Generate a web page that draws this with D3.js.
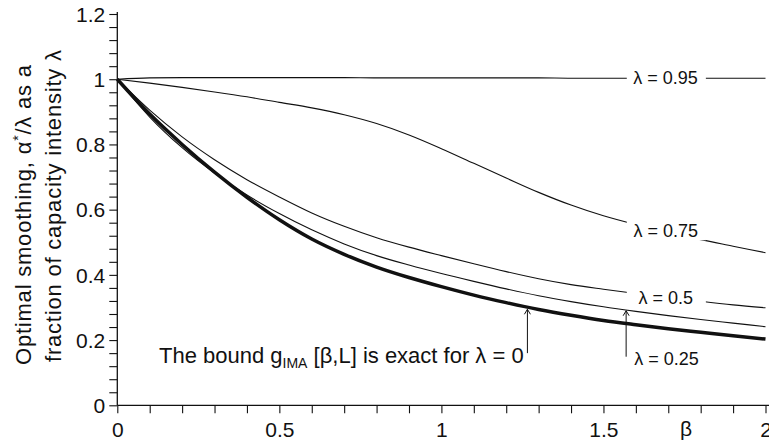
<!DOCTYPE html>
<html><head><meta charset="utf-8">
<script src="https://cdn.jsdelivr.net/npm/d3@7/dist/d3.min.js"></script>
<style>
body{margin:0;background:#fff}
svg{display:block}
text{font-family:"Liberation Sans",Arial,Helvetica,sans-serif;fill:#111}
</style>
</head><body>
<svg id="chart" width="769" height="442"></svg>
<script>
// ---- data ----
const beta = [0,0.1,0.2,0.3,0.4,0.5,0.6,0.7,0.8,0.9,1.0,1.1,1.2,1.3,1.4,1.5,1.6,1.7,1.8,1.9,2.0];
const lambda095 = [1.000,1.004,1.005,1.005,1.005,1.005,1.005,1.005,1.004,1.004,1.004,1.004,1.004,1.004,1.003,1.003,1.003,1.003,1.003,1.003,1.003];
const lambda075 = [1.000,0.988,0.975,0.961,0.946,0.929,0.912,0.891,0.864,0.829,0.787,0.742,0.697,0.653,0.614,0.581,0.554,0.530,0.508,0.488,0.468];
const lambda050 = [1.000,0.905,0.823,0.753,0.692,0.639,0.590,0.549,0.514,0.485,0.459,0.434,0.410,0.388,0.370,0.356,0.343,0.331,0.319,0.308,0.299];
const lambda025 = [1.000,0.884,0.790,0.712,0.645,0.588,0.538,0.495,0.459,0.430,0.404,0.380,0.357,0.336,0.318,0.302,0.288,0.275,0.263,0.252,0.241];
const lambda000 = [1.000,0.893,0.800,0.715,0.638,0.569,0.510,0.463,0.424,0.392,0.364,0.338,0.315,0.294,0.276,0.260,0.247,0.235,0.224,0.213,0.203];

const seriesLabels = ["λ = 0.95","λ = 0.75","λ = 0.5","λ = 0.25","λ = 0"];
const xMajorTicks = [0,0.5,1,1.5,2];
const xTickLabels = ["0","0.5","1","1.5","2"];
const yMajorTicks = [0,0.2,0.4,0.6,0.8,1,1.2];
const yTickLabels = ["0","0.2","0.4","0.6","0.8","1","1.2"];
const xTitle = "β";
const yTitle1 = ["Optimal smoothing, α", "*", "/λ as a"];
const yTitle2 = "fraction of capacity intensity λ";
const boundText = ["The bound g", "IMA", " [β,L] is exact for λ = 0"];

// ---- layout ----
const svg = d3.select("#chart");
const x = d3.scaleLinear().domain([0,2]).range([117.3,765.5]);
const y = d3.scaleLinear().domain([0,1.2]).range([405.3,14]);
const ink = "#111";

// series
const series = [
  {vals: lambda095, w: 1.1},
  {vals: lambda075, w: 1.1},
  {vals: lambda050, w: 1.1},
  {vals: lambda025, w: 1.1},
  {vals: lambda000, w: 3.5}
];
const line = d3.line().x(d=>x(d[0])).y(d=>y(d[1])).curve(d3.curveMonotoneX);
svg.append("g").selectAll("path").data(series).join("path")
  .attr("d", s => line(beta.map((b,i)=>[b, s.vals[i]])))
  .attr("fill","none").attr("stroke",ink).attr("stroke-width",s=>s.w)
  .attr("stroke-linejoin","round");

// axes
const xMinor = d3.range(0, 2.0001, 0.1).map(v=>+v.toFixed(2));
const yMinor = d3.range(0, 1.2001, 0.04).map(v=>+v.toFixed(2));
const xAxis = d3.axisBottom(x).tickValues(xMinor).tickSize(8).tickPadding(8.5)
  .tickFormat(v => { const k = xMajorTicks.findIndex(t=>Math.abs(t-v)<1e-6); return k>=0 ? xTickLabels[k] : ""; })
  .tickSizeOuter(0);
const yAxis = d3.axisLeft(y).tickValues(yMinor).tickSize(8).tickPadding(4)
  .tickFormat(v => { const k = yMajorTicks.findIndex(t=>Math.abs(t-v)<1e-6); return k>=0 ? yTickLabels[k] : ""; })
  .tickSizeOuter(0);

const gx = svg.append("g").attr("transform",`translate(0,${y(0)})`).call(xAxis);
const gy = svg.append("g").attr("transform",`translate(${x(0)},0)`).call(yAxis);
[gx,gy].forEach(g=>{
  g.selectAll("line").attr("stroke",ink).attr("stroke-width",1.1);
  g.select(".domain").remove();
  g.selectAll("text").style("font-family",'"Liberation Sans",Arial,sans-serif').style("font-size","21px").attr("fill",ink);
});
gy.selectAll("text").attr("dy","0.34em");
// axis lines
svg.append("line").attr("x1",x(0)).attr("x2",769).attr("y1",y(0)).attr("y2",y(0)).attr("stroke",ink).attr("stroke-width",1.3);
svg.append("line").attr("x1",x(0)).attr("x2",x(0)).attr("y1",y(1.2)-2).attr("y2",y(0)).attr("stroke",ink).attr("stroke-width",1.3);

// x title
svg.append("text").attr("x",686).attr("y",436).attr("text-anchor","middle").style("font-size","21px").text(xTitle);

// y title
const yt1 = svg.append("text").attr("transform","translate(31,365) rotate(-90)")
  .style("font-size","22px").attr("textLength",300).attr("lengthAdjust","spacing");
yt1.append("tspan").text(yTitle1[0]);
yt1.append("tspan").attr("dy",-8).style("font-size","14px").text(yTitle1[1]);
yt1.append("tspan").attr("dy",8).text(yTitle1[2]);
svg.append("text").attr("transform","translate(61,362) rotate(-90)").style("font-size","22px")
  .attr("textLength",312).attr("lengthAdjust","spacing").text(yTitle2);

// curve labels with white gaps
const gapStart = 1.572, gapEnd = 1.816;
const curveLabels = [
  {t: seriesLabels[0], b: 1.592, v: 0.9856},
  {t: seriesLabels[1], b: 1.593, v: 0.5153},
  {t: seriesLabels[2], b: 1.608, v: 0.3107}
];
curveLabels.forEach(l=>{
  svg.append("rect").attr("x",x(gapStart)).attr("width",x(gapEnd)-x(gapStart))
    .attr("y",y(l.v)-19).attr("height",22).attr("fill","#fff");
  svg.append("text").attr("x",x(l.b)).attr("y",y(l.v)).style("font-size","18px").text(l.t);
});
svg.append("text").attr("x",x(1.595)).attr("y",y(0.1236)).style("font-size","18px").text(seriesLabels[3]);

// bound annotation
const bt = svg.append("text").attr("x",x(0.1287)).attr("y",y(0.1288)).style("font-size","22px");
bt.append("tspan").text(boundText[0]);
bt.append("tspan").attr("dy",5).style("font-size","14px").text(boundText[1]);
bt.append("tspan").attr("dy",-5).text(boundText[2]);

// arrows
const arrows = [
  {b: 1.2654, from: 0.160, to: 0.2945},
  {b: 1.570, from: 0.149, to: 0.290}
];
arrows.forEach(a=>{
  const ax = x(a.b), y0 = y(a.from), y1 = y(a.to);
  svg.append("line").attr("x1",ax).attr("x2",ax).attr("y1",y0).attr("y2",y1).attr("stroke",ink).attr("stroke-width",1);
  svg.append("path").attr("d",`M${ax-3},${y1+5}L${ax},${y1}L${ax+3},${y1+5}`).attr("fill","none").attr("stroke",ink).attr("stroke-width",1);
});
</script>
</body></html>
